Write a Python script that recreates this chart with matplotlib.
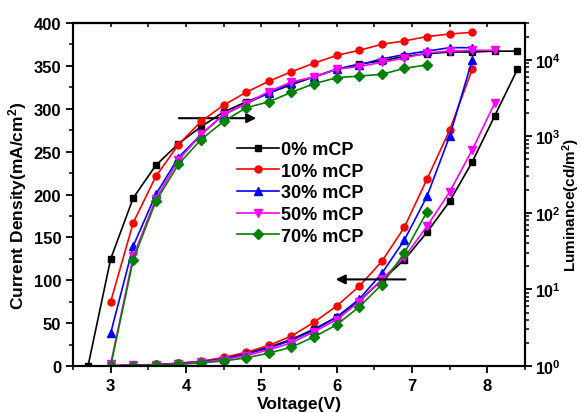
import math
import matplotlib
matplotlib.use('Agg')
import matplotlib.pyplot as plt
from matplotlib.ticker import MultipleLocator, LogLocator, FuncFormatter, NullFormatter

plt.rcParams['font.family'] = 'Liberation Sans'
plt.rcParams['font.weight'] = 'bold'
plt.rcParams['mathtext.fontset'] = 'custom'
plt.rcParams['mathtext.rm'] = 'Liberation Sans:bold'
plt.rcParams['mathtext.bf'] = 'Liberation Sans:bold'
plt.rcParams['mathtext.it'] = 'Liberation Sans:bold'

labels = ['0% mCP', '10% mCP', '30% mCP', '50% mCP', '70% mCP']
colors = ['black', 'red', 'blue', 'magenta', '#008000']
markers = ['s', 'o', '^', 'v', 'D']

# current density (mA/cm2), left axis
v_j0 = [3.0, 3.3, 3.6, 3.9, 4.2, 4.5, 4.8, 5.1, 5.4, 5.7, 6.0, 6.3, 6.6, 6.9, 7.2, 7.5, 7.8, 8.1, 8.4]
j0 = [0.2, 0.8, 1.5, 3, 5, 9, 15, 22, 31, 43, 57, 76, 100, 124, 156, 192, 238, 292, 346]
v_j10 = [3.0, 3.3, 3.6, 3.9, 4.2, 4.5, 4.8, 5.1, 5.4, 5.7, 6.0, 6.3, 6.6, 6.9, 7.2, 7.5, 7.8]
j10 = [0.3, 1, 1.8, 3.3, 5.5, 10, 16, 24, 35, 51, 70, 93, 122, 162, 218, 275, 346]
v_j30 = [3.0, 3.3, 3.6, 3.9, 4.2, 4.5, 4.8, 5.1, 5.4, 5.7, 6.0, 6.3, 6.6, 6.9, 7.2, 7.5, 7.8]
j30 = [0.2, 0.8, 1.5, 2.8, 4.8, 8.5, 14, 21, 30, 42, 57, 78, 108, 147, 198, 268, 357]
v_j50 = [3.0, 3.3, 3.6, 3.9, 4.2, 4.5, 4.8, 5.1, 5.4, 5.7, 6.0, 6.3, 6.6, 6.9, 7.2, 7.5, 7.8, 8.1]
j50 = [0.1, 0.6, 1.2, 2.4, 4.2, 7.5, 12, 19, 27, 40, 54, 75, 101, 127, 163, 203, 252, 307]
v_j70 = [3.0, 3.3, 3.6, 3.9, 4.2, 4.5, 4.8, 5.1, 5.4, 5.7, 6.0, 6.3, 6.6, 6.9, 7.2]
j70 = [0.1, 0.5, 1, 2, 3.5, 6, 9.5, 15, 22, 34, 48, 69, 95, 132, 180]

# luminance (cd/m2), right axis
v_l0 = [2.7, 3.0, 3.3, 3.6, 3.9, 4.2, 4.5, 4.8, 5.1, 5.4, 5.7, 6.0, 6.3, 6.6, 6.9, 7.2, 7.5, 7.8, 8.1, 8.4]
l0 = [1, 25, 157, 420, 800, 1340, 2080, 2830, 3670, 4750, 5990, 7550, 8830, 9700, 11100, 12000, 12670, 12670, 13000, 13000]
v_l10 = [3.0, 3.3, 3.6, 3.9, 4.2, 4.5, 4.8, 5.1, 5.4, 5.7, 6.0, 6.3, 6.6, 6.9, 7.2, 7.5, 7.8]
l10 = [6.9, 74.5, 300, 780, 1570, 2560, 3770, 5260, 7000, 9060, 11430, 13330, 15970, 17700, 20140, 21770, 22900]
v_l30 = [3.0, 3.3, 3.6, 3.9, 4.2, 4.5, 4.8, 5.1, 5.4, 5.7, 6.0, 6.3, 6.6, 6.9, 7.2, 7.5, 7.8]
l30 = [2.67, 37, 175, 530, 1060, 1920, 2690, 3670, 5000, 5990, 7550, 8590, 10300, 11720, 13000, 14420, 14420]
v_l50 = [3.0, 3.3, 3.6, 3.9, 4.2, 4.5, 4.8, 5.1, 5.4, 5.7, 6.0, 6.3, 6.6, 6.9, 7.2, 7.5, 7.8, 8.1]
l50 = [1.05, 27, 153, 490, 1060, 1920, 2690, 3860, 5130, 5990, 7550, 8170, 9290, 10570, 12340, 13000, 13330, 13330]
v_l70 = [3.0, 3.3, 3.6, 3.9, 4.2, 4.5, 4.8, 5.1, 5.4, 5.7, 6.0, 6.3, 6.6, 6.9, 7.2]
l70 = [1, 24.5, 142, 431, 910, 1570, 2370, 2830, 3770, 4880, 5840, 6150, 6470, 7760, 8590]

vj = [v_j0, v_j10, v_j30, v_j50, v_j70]
jj = [j0, j10, j30, j50, j70]
vl = [v_l0, v_l10, v_l30, v_l50, v_l70]
ll = [l0, l10, l30, l50, l70]

fig = plt.figure(figsize=(5.82, 4.14), dpi=100)
ax = fig.add_axes([0.1254, 0.1135, 0.7766, 0.8285])
ax2 = ax.twinx()

for i in range(5):
    ms = 5.5 if markers[i] in ('^', 'v', 'D') else 5
    ax.plot(vj[i], jj[i], color=colors[i], marker=markers[i], ms=ms, lw=1.2, label=labels[i])
    ax2.plot(vl[i], ll[i], color=colors[i], marker=markers[i], ms=ms, lw=1.2)

ax.set_xlim(2.5, 8.5)
ax.set_ylim(0, 400)
ax2.set_yscale('log')
ax2.set_ylim(1, 30300)

ax.xaxis.set_major_locator(MultipleLocator(1))
ax.xaxis.set_minor_locator(MultipleLocator(0.5))
ax.yaxis.set_major_locator(MultipleLocator(50))
ax.yaxis.set_minor_locator(MultipleLocator(25))
ax2.yaxis.set_major_locator(LogLocator(base=10))
ax2.yaxis.set_minor_locator(LogLocator(base=10, subs=range(2, 10)))
ax2.yaxis.set_major_formatter(FuncFormatter(lambda v, p: r'$\mathbf{10^{%d}}$' % round(math.log10(v))))
ax2.yaxis.set_minor_formatter(NullFormatter())

ax.tick_params(which='major', direction='out', length=5, width=1.3, labelsize=12)
ax.tick_params(which='minor', direction='out', length=3, width=1.1)
ax2.tick_params(which='major', direction='out', length=5, width=1.3, labelsize=11.5, pad=2)
ax2.tick_params(which='minor', direction='out', length=3, width=1.1)

top = ax.secondary_xaxis('top')
top.xaxis.set_major_locator(MultipleLocator(1))
top.xaxis.set_minor_locator(MultipleLocator(0.5))
top.tick_params(which='both', direction='in', labeltop=False, length=3, width=1.1)

for a in (ax, ax2):
    for s in a.spines.values():
        s.set_linewidth(1.5)
top.spines['top'].set_linewidth(1.5)

ax.set_xlabel('Voltage(V)', fontsize=12.5, fontweight='bold', labelpad=2)
ax.set_ylabel(r'Current Density(mA/cm$^\mathbf{2}$)', fontsize=12.5, fontweight='bold')
ax.yaxis.set_label_coords(-0.097, 0.469)
ax2.set_ylabel(r'Luminance(cd/m$^\mathbf{2}$)', fontsize=11, fontweight='bold')
ax2.yaxis.set_label_coords(1.078, 0.472)

ax.annotate('', xy=(4.97, 289), xytext=(3.87, 289),
            arrowprops=dict(arrowstyle='-|>', color='black', lw=1.5, mutation_scale=14))
ax.annotate('', xy=(5.95, 101), xytext=(6.95, 101),
            arrowprops=dict(arrowstyle='-|>', color='black', lw=1.5, mutation_scale=14))

ax.legend(loc='upper left', bbox_to_anchor=(0.347, 0.677), frameon=False, fontsize=13,
          handlelength=2.3, handletextpad=0.15, labelspacing=0.26, borderaxespad=0)

fig.savefig('out.png', dpi=100)
